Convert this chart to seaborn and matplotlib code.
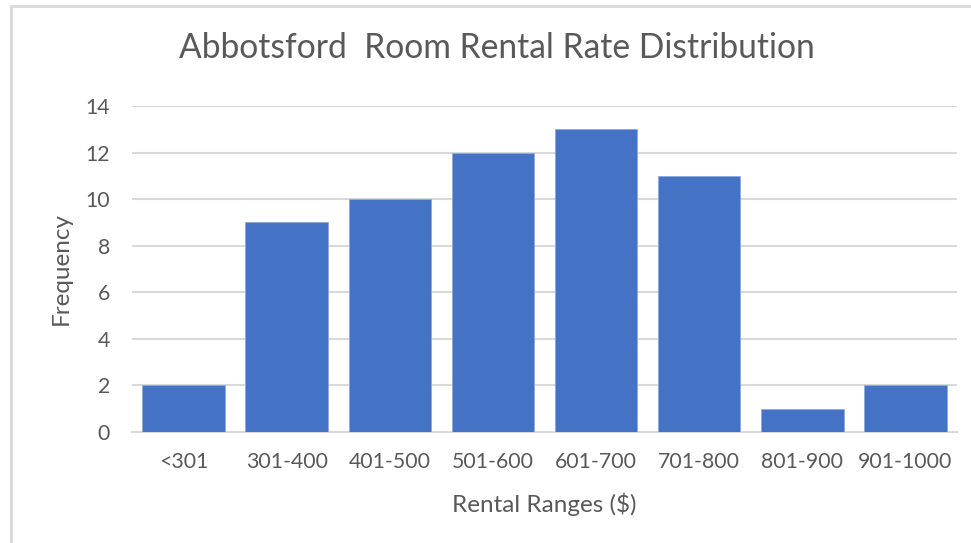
import matplotlib
matplotlib.use("Agg")
import matplotlib.pyplot as plt
import seaborn as sns
import pandas as pd
from matplotlib.patches import Rectangle

categories = ["<301", "301-400", "401-500", "501-600", "601-700", "701-800", "801-900", "901-1000"]
frequency = [2, 9, 10, 12, 13, 11, 1, 2]
y_ticks = [0, 2, 4, 6, 8, 10, 12, 14]

df = pd.DataFrame({"range": categories, "freq": frequency})

sns.set_theme(style="white")
plt.rcParams['font.family'] = ['Lato', 'DejaVu Sans']

text_col = "#595959"
grid_col = "#D9D9D9"

fig = plt.figure(figsize=(9.71, 5.43), dpi=100)
ax = fig.add_axes([132/971, 1-432/543, (957-132)/971, (432-106)/543])

sns.barplot(data=df, x="range", y="freq", color="#4472C4", saturation=1,
            width=0.8, ax=ax, edgecolor="#8FAADC", linewidth=0.6, zorder=3)

ax.set_ylim(0, 14)
ax.set_yticks(y_ticks)
ax.yaxis.grid(True, color=grid_col, linewidth=1.5, zorder=0)
ax.set_axisbelow(True)
for s in ["top", "right", "left"]:
    ax.spines[s].set_visible(False)
ax.spines["bottom"].set_color(grid_col)
ax.spines["bottom"].set_linewidth(1.5)
ax.tick_params(axis="both", length=0, labelsize=15.3, colors=text_col)
ax.tick_params(axis="y", pad=16)
ax.tick_params(axis="x", pad=14.5)

ax.set_xlabel("Rental Ranges ($)", fontsize=17.5, color=text_col, labelpad=14.5)
ax.set_ylabel("Frequency", fontsize=17.5, color=text_col, labelpad=10)

fig.text(497/971, 1-48/543, "Abbotsford  Room Rental Rate Distribution",
         ha="center", va="center", fontsize=24.2, color=text_col)

fig.patches.append(Rectangle((11/971, -0.1), 1.2, 1-6/543+0.1, transform=fig.transFigure,
                             fill=False, edgecolor=grid_col, linewidth=2))

fig.savefig("out.png", dpi=100)
